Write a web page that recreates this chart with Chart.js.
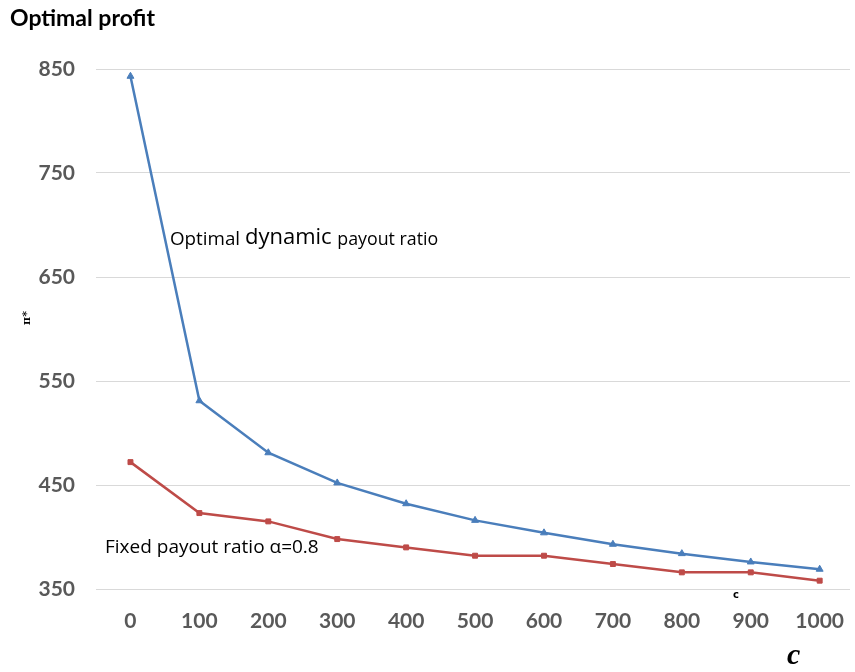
<!DOCTYPE html>
<html>
<head>
<meta charset="utf-8">
<script src="https://cdn.jsdelivr.net/npm/chart.js@4/dist/chart.umd.min.js"></script>
<style>
  html, body { margin: 0; padding: 0; background: #fff; }
  #wrap { position: relative; width: 855px; height: 672px; }
</style>
</head>
<body>
<div id="wrap"><canvas id="c" width="855" height="672"></canvas></div>
<script>
// values
const cValues = [0, 100, 200, 300, 400, 500, 600, 700, 800, 900, 1000];
const dynamicProfit = [843, 531, 481, 452, 432, 416, 404, 393, 384, 376, 369];
const fixedProfit = [472, 423, 415, 398, 390, 382, 382, 374, 366, 366, 358];
const yTicks = [350, 450, 550, 650, 750, 850];

const textPlugin = {
	id: 'texts',
	afterDraw(chart) {
		const ctx = chart.ctx;
		ctx.save();
		ctx.fillStyle = '#000';
		ctx.textBaseline = 'middle';
		ctx.textAlign = 'left';
		// title
		ctx.font = 'bold 23px Lato, "Open Sans", sans-serif';
		ctx.fillText('Optimal profit', 10, 19);

		// y axis title (rotated)
		ctx.save();
		ctx.translate(27, 318);
		ctx.rotate(-Math.PI / 2);
		ctx.font = 'bold 11px "DejaVu Serif", serif';
		ctx.textAlign = 'center';
		ctx.fillText('\u03c0*', 0, 0);
		ctx.restore();

		// series labels
		let x = 170;
		ctx.font = '18.8px "Open Sans", sans-serif';
		ctx.fillText('Optimal ', x, 240);
		x += ctx.measureText('Optimal ').width;
		ctx.font = '22px "Open Sans", sans-serif';
		ctx.fillText('dynamic', x, 238);
		x += ctx.measureText('dynamic ').width;
		ctx.font = '17.8px "Open Sans", sans-serif';
		ctx.fillText('payout ratio', x, 240);

		ctx.font = '19px "Open Sans", sans-serif';
		ctx.fillText('Fixed payout ratio \u03b1=0.8', 105, 548);

		// small c and axis label c
		ctx.font = 'bold 10px "DejaVu Sans", sans-serif';
		ctx.fillText('c', 733, 595);
		ctx.font = 'italic bold 30px "Liberation Serif", serif';
		ctx.fillText('c', 787, 656);
		ctx.restore();
	}
};

const ctx = document.getElementById('c');
const chart = new Chart(ctx, {
	type: 'line',
	data: {
		datasets: [{
			label: 'Optimal dynamic payout ratio',
			data: cValues.map((c, i) => ({ x: c, y: dynamicProfit[i] })),
			borderColor: '#4a7ebb',
			backgroundColor: '#4a7ebb',
			borderWidth: 2.5,
			pointStyle: 'triangle',
			pointRadius: 4,
			pointBorderWidth: 1,
			fill: false,
			tension: 0
		}, {
			label: 'Fixed payout ratio',
			data: cValues.map((c, i) => ({ x: c, y: fixedProfit[i] })),
			borderColor: '#be4b48',
			backgroundColor: '#be4b48',
			borderWidth: 2.5,
			pointStyle: 'rect',
			pointRadius: 3.5,
			pointBorderWidth: 1,
			fill: false,
			tension: 0
		}]
	},
	options: {
		responsive: false,
		animation: false,
		layout: { padding: { top: 69, left: 0, right: 0, bottom: 0 } },
		plugins: {
			legend: { display: false },
			tooltip: { enabled: false }
		},
		scales: {
			x: {
				type: 'linear',
				min: -50,
				max: 1044,
				afterBuildTicks(scale) { scale.ticks = cValues.map(v => ({ value: v })); },
				grid: { display: false, drawTicks: false },
				border: { display: false },
				ticks: {
					color: '#595959',
					font: { family: 'Lato, "Open Sans", sans-serif', size: 21, weight: 'bold' },
					padding: 20,
					maxRotation: 0,
					autoSkip: false,
					callback: v => String(v)
				},
				afterFit(scale) {
					scale.height = 83;
					scale.paddingLeft = 0;
					scale.paddingRight = 0;
				}
			},
			y: {
				min: 350,
				max: 850,
				afterBuildTicks(scale) { scale.ticks = yTicks.map(v => ({ value: v })); },
				grid: { color: '#d9d9d9', lineWidth: 1, drawTicks: false },
				border: { display: false },
				ticks: {
					color: '#595959',
					font: { family: 'Lato, "Open Sans", sans-serif', size: 21, weight: 'bold' },
					padding: 21
				},
				afterFit(scale) { scale.width = 96; }
			}
		}
	},
	plugins: [textPlugin]
});
</script>
</body>
</html>
